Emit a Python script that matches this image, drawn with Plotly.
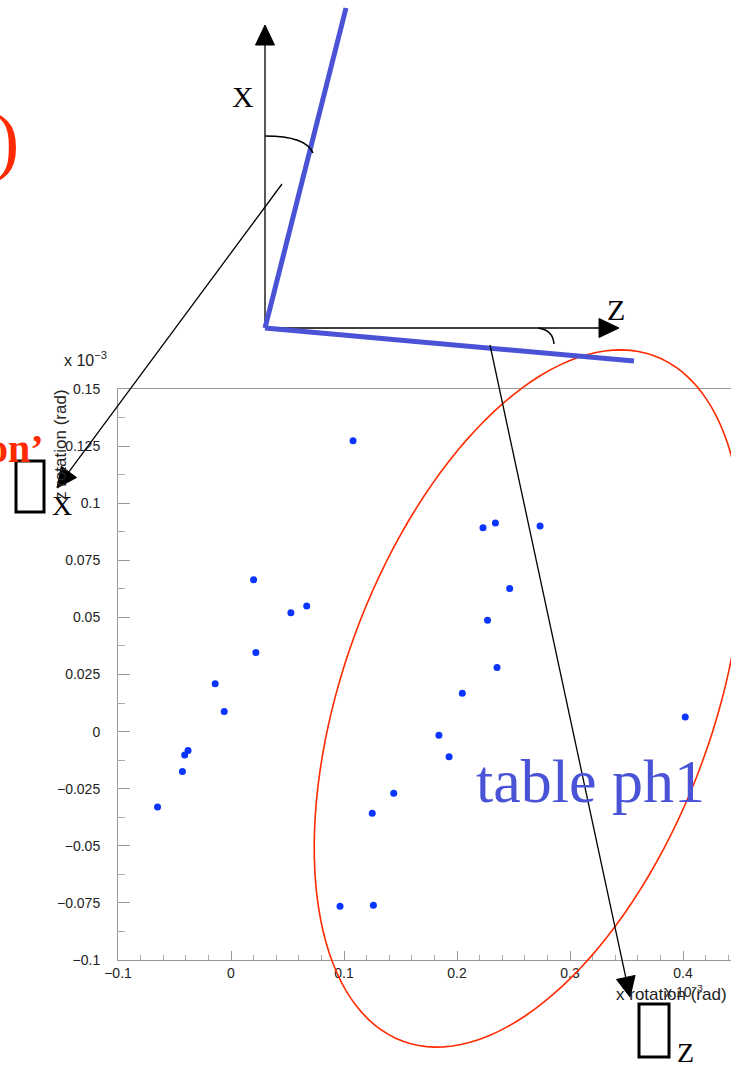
import math
import plotly.graph_objects as go

# ---------------- data ----------------
x_rotation = [0.108, 0.020, 0.053, 0.067, 0.022, -0.014, -0.006, -0.038, -0.041, -0.043,
              -0.065, 0.0965, 0.126, 0.125, 0.144, 0.184, 0.193, 0.223, 0.234, 0.2735,
              0.2466, 0.227, 0.2354, 0.2047, 0.402]
z_rotation = [0.1273, 0.0665, 0.052, 0.055, 0.0346, 0.021, 0.0088, -0.0083, -0.0102, -0.0175,
              -0.033, -0.0765, -0.076, -0.0357, -0.027, -0.0016, -0.011, 0.0893, 0.0913, 0.090,
              0.0626, 0.0487, 0.0281, 0.0168, 0.0064]

x_tickvals = [-0.1, 0, 0.1, 0.2, 0.3, 0.4]
x_ticktext = ["\u22120.1", "0", "0.1", "0.2", "0.3", "0.4"]
y_tickvals = [0.15, 0.125, 0.1, 0.075, 0.05, 0.025, 0, -0.025, -0.05, -0.075, -0.1]
y_ticktext = ["0.15", "0.125", "0.1", "0.075", "0.05", "0.025", "0",
              "\u22120.025", "\u22120.05", "\u22120.075", "\u22120.1"]

W, H = 731, 1068
BLUE = "#4a52d6"
RED = "#ff2a00"


def X(px):
    return px / W


def Y(py):
    return 1 - py / H


fig = go.Figure()
fig.add_trace(go.Scatter(
    x=x_rotation, y=z_rotation, mode="markers",
    marker=dict(color="#0a35ff", size=7, line=dict(width=0)),
    showlegend=False, hoverinfo="skip"))

shapes = []
annotations = []


def line(x0, y0, x1, y1, color="black", width=1.3):
    shapes.append(dict(type="line", xref="paper", yref="paper",
                       x0=X(x0), y0=Y(y0), x1=X(x1), y1=Y(y1),
                       line=dict(color=color, width=width)))


def arrowhead(xs, ys, xt, yt, length=20, half=9.5):
    dx, dy = xt - xs, yt - ys
    n = math.hypot(dx, dy)
    ux, uy = dx / n, dy / n
    bx, by = xt - ux * length, yt - uy * length
    px, py = -uy, ux
    p = [(xt, yt), (bx + px * half, by + py * half), (bx - px * half, by - py * half)]
    path = "M {} {} L {} {} L {} {} Z".format(*[v for pt in p for v in (X(pt[0]), Y(pt[1]))])
    shapes.append(dict(type="path", xref="paper", yref="paper", path=path,
                       fillcolor="black", line=dict(color="black", width=1)))


def arrow(xs, ys, xt, yt, width=1.3):
    dx, dy = xt - xs, yt - ys
    n = math.hypot(dx, dy)
    line(xs, ys, xt - dx / n * 15, yt - dy / n * 15, width=width)
    arrowhead(xs, ys, xt, yt)


def qcurve(p0, c, p1, color="black", width=1.5):
    path = "M {} {} Q {} {} {} {}".format(X(p0[0]), Y(p0[1]), X(c[0]), Y(c[1]), X(p1[0]), Y(p1[1]))
    shapes.append(dict(type="path", xref="paper", yref="paper", path=path,
                       line=dict(color=color, width=width)))


def text(x, y, s, size, color="black", family="Liberation Serif", xanchor="center",
         yanchor="middle", angle=0, bold=False):
    if bold:
        s = "<b>" + s + "</b>"
    annotations.append(dict(x=X(x), y=Y(y), xref="paper", yref="paper", text=s,
                            showarrow=False, xanchor=xanchor, yanchor=yanchor,
                            textangle=angle, borderpad=0,
                            font=dict(size=size, color=color, family=family)))


# red ellipse (rotated)
cx, cy, a, b, th = 528.5, 698.5, 365, 185, math.radians(20.1)
pts = []
for i in range(145):
    t = 2 * math.pi * i / 144
    ox = a * math.cos(t) * math.sin(th) + b * math.sin(t) * math.cos(th)
    oy = -a * math.cos(t) * math.cos(th) + b * math.sin(t) * math.sin(th)
    pts.append((X(cx + ox), Y(cy + oy)))
path = "M " + " L ".join("{:.5f} {:.5f}".format(px, py) for px, py in pts) + " Z"
shapes.append(dict(type="path", xref="paper", yref="paper", path=path,
                   line=dict(color=RED, width=1.6)))

# coordinate diagram
arrow(265, 327, 265, 25)            # X axis
arrow(265, 328, 619, 328)           # Z axis
line(265, 328, 346, 8, color=BLUE, width=5)
line(265, 328, 634, 361, color=BLUE, width=5)
qcurve((265, 136), (306, 136), (313, 153))
qcurve((538, 328), (553, 330), (554, 344))
arrow(282, 184, 57, 488)
arrow(490, 345, 630, 997)

# missing-glyph boxes
shapes.append(dict(type="rect", xref="paper", yref="paper", x0=X(16), y0=Y(461), x1=X(44), y1=Y(512),
                   line=dict(color="black", width=3)))
shapes.append(dict(type="rect", xref="paper", yref="paper", x0=X(639), y0=Y(1004), x1=X(669), y1=Y(1057),
                   line=dict(color="black", width=3)))

# texts
text(243, 96, "X", 30)
text(616, 310, "Z", 30)
text(62, 506, "X", 28)
text(685, 1052, "Z", 28)
text(20, 140, ")", 76, color=RED, xanchor="right")
text(45, 448, "on\u2019", 40, color=RED, xanchor="right", bold=True)
text(590, 781, "table ph1", 62, color=BLUE)
text(60, 445, "z rotation (rad)", 17, color="#222", family="Liberation Sans", angle=-90)
text(63, 359, "x 10<sup>\u22123</sup>", 16, color="#222", family="Liberation Sans", xanchor="left")
text(615, 994, "x rotation (rad)", 17, color="#222", family="Liberation Sans", xanchor="left")
text(664, 991, "x 10<sup>\u22123</sup>", 14, color="#222", family="Liberation Sans", xanchor="left")

x0px, x1px, ytop, ybot = 118, 731, 389, 960
fig.update_layout(
    template="none",
    width=W, height=H, margin=dict(l=0, r=0, t=0, b=0, pad=0, autoexpand=False),
    autosize=False,
    paper_bgcolor="white", plot_bgcolor="white",
    shapes=shapes, annotations=annotations, showlegend=False,
    xaxis=dict(domain=[X(x0px), 1], range=[-0.1, -0.1 + (x1px - x0px) / 1130],
               automargin=False,
               tickvals=x_tickvals, ticktext=x_ticktext,
               showgrid=False, zeroline=False, showline=True, linecolor="#999", linewidth=1,
               mirror=True, ticks="inside", ticklen=9, tickcolor="#999",
               minor=dict(dtick=0.02, tick0=0, ticks="inside", ticklen=5, tickcolor="#aaa"),
               tickfont=dict(family="Liberation Sans", size=14, color="#222")),
    yaxis=dict(domain=[Y(ybot), Y(ytop)], range=[-0.1, 0.15],
               automargin=False,
               tickvals=y_tickvals, ticktext=y_ticktext,
               showgrid=False, zeroline=False, showline=True, linecolor="#999", linewidth=1,
               ticks="inside", ticklen=12, tickcolor="#999",
               minor=dict(dtick=0.0125, tick0=0, ticks="inside", ticklen=7, tickcolor="#aaa"),
               ticklabelstandoff=14,
               tickfont=dict(family="Liberation Sans", size=14, color="#222")),
)

fig.write_html("out.html", config={"displayModeBar": False},
               post_script="document.body.style.margin='0';document.body.style.overflow='hidden';")
